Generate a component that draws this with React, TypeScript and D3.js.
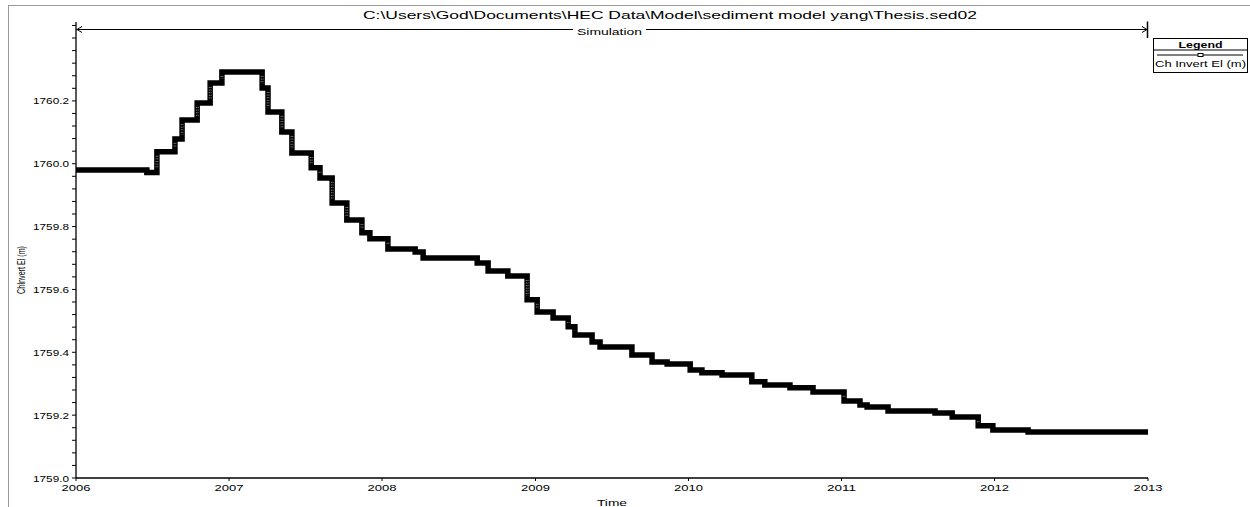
import React from "react";
import * as d3 from "d3";

// Channel invert elevation time series (step changes), metres
const stepDates: string[] = [
  "2006-01-01", "2006-06-19", "2006-07-13", "2006-08-25", "2006-09-11", "2006-10-17",
  "2006-11-17", "2006-12-15", "2007-03-21", "2007-04-04", "2007-05-07", "2007-05-31",
  "2007-07-16", "2007-08-06", "2007-09-04", "2007-10-09", "2007-11-14", "2007-12-03",
  "2008-01-15", "2008-03-20", "2008-04-08", "2008-08-15", "2008-09-10", "2008-10-27",
  "2008-12-12", "2009-01-05", "2009-02-12", "2009-03-20", "2009-04-05", "2009-05-16",
  "2009-06-04", "2009-08-19", "2009-10-06", "2009-11-11", "2010-01-05", "2010-02-02",
  "2010-03-22", "2010-06-01", "2010-07-02", "2010-08-31", "2010-10-25", "2011-01-07",
  "2011-02-14", "2011-03-03", "2011-04-22", "2011-08-12", "2011-09-22", "2011-11-23",
  "2011-12-28", "2012-03-21", "2013-01-01",
];
const invertElev: number[] = [
  1759.98, 1759.972, 1760.038, 1760.079, 1760.139, 1760.193,
  1760.257, 1760.292, 1760.241, 1760.165, 1760.101, 1760.034,
  1759.987, 1759.955, 1759.875, 1759.821, 1759.78, 1759.761,
  1759.729, 1759.719, 1759.7, 1759.684, 1759.659, 1759.643,
  1759.567, 1759.528, 1759.509, 1759.481, 1759.455, 1759.433,
  1759.417, 1759.391, 1759.369, 1759.363, 1759.344, 1759.335,
  1759.328, 1759.306, 1759.296, 1759.287, 1759.274, 1759.245,
  1759.232, 1759.226, 1759.213, 1759.207, 1759.194, 1759.166,
  1759.153, 1759.146, 1759.146,
];
const yMajorTicks: number[] = [1759.0, 1759.2, 1759.4, 1759.6, 1759.8, 1760.0, 1760.2];
const xTickYears: number[] = [2006, 2007, 2008, 2009, 2010, 2011, 2012, 2013];

const TITLE = "C:\\Users\\God\\Documents\\HEC Data\\Model\\sediment model yang\\Thesis.sed02";
const FONT = "'Liberation Sans', Arial, sans-serif";

export default function App() {
  const left = 76, right = 1148, top = 22, bottom = 478;
  const parse = d3.timeParse("%Y-%m-%d");
  const x = d3.scaleTime()
    .domain([new Date(2006, 0, 1), new Date(2013, 0, 1)])
    .range([left, right]);
  const y = d3.scaleLinear().domain([1759.0, 1760.451]).range([bottom, top]);

  const pts: [number, number][] = stepDates.map((d, i) => [x(parse(d) as Date), y(invertElev[i])]);
  const line = d3.line().curve(d3.curveStepAfter);
  const pathD = line(pts) || "";

  // vertical risers of the step line (drawn with a dotted texture)
  const risers: { x: number; y1: number; y2: number }[] = [];
  for (let i = 1; i < pts.length; i++) {
    const dy = Math.abs(pts[i][1] - pts[i - 1][1]);
    if (dy > 8) risers.push({ x: pts[i][0], y1: pts[i - 1][1], y2: pts[i][1] });
  }

  const minorTicks = d3.range(0, 37).map((i) => 1759 + i * 0.04);
  const midX = (left + right) / 2;

  return (
    <svg width={1250} height={507} style={{ position: "absolute", left: 0, top: 0, background: "#fff" }}
      fontFamily={FONT}>
      {/* outer frame */}
      <rect x={8.5} y={5.5} width={1260} height={520} fill="none" stroke="#9a9a9a" strokeWidth={1} />

      {/* title */}
      <text x={363} y={18.5} fontSize={11.5} textLength={614} lengthAdjust="spacingAndGlyphs" fill="#000">
        {TITLE}
      </text>

      {/* simulation window marker */}
      <line x1={left} x2={right} y1={29.5} y2={29.5} stroke="#000" strokeWidth={1} />
      <path d={`M${left + 6},26.5 L${left + 1},29.5 L${left + 6},32.5`} fill="none" stroke="#000" strokeWidth={1} />
      <path d={`M${right - 6},26.5 L${right - 1},29.5 L${right - 6},32.5`} fill="none" stroke="#000" strokeWidth={1} />
      <line x1={right - 0.5} x2={right - 0.5} y1={21.5} y2={38} stroke="#000" strokeWidth={1.5} />
      <rect x={573} y={24} width={73} height={11} fill="#fff" />
      <text x={577} y={34.5} fontSize={9.5} textLength={65} lengthAdjust="spacingAndGlyphs" fill="#000">
        Simulation
      </text>

      {/* axes */}
      <line x1={left} x2={left} y1={top} y2={bottom} stroke="#000" strokeWidth={1.3} />
      <line x1={left} x2={right} y1={bottom} y2={bottom} stroke="#000" strokeWidth={1.3} />
      {minorTicks.map((v, i) => (
        <line key={"mt" + i} x1={left - 4} x2={left} y1={y(v)} y2={y(v)} stroke="#000" strokeWidth={1} />
      ))}
      {yMajorTicks.map((v) => (
        <text key={"yl" + v} x={33} y={y(v) + 3.5} fontSize={9.5} textLength={36}
          lengthAdjust="spacingAndGlyphs" fill="#000">
          {v.toFixed(1)}
        </text>
      ))}
      {xTickYears.map((yr) => {
        const xx = x(new Date(yr, 0, 1));
        return (
          <g key={"xt" + yr}>
            <line x1={xx} x2={xx} y1={bottom} y2={bottom + 3} stroke="#000" strokeWidth={1} />
            <text x={xx - 14.5} y={491} fontSize={9.5} textLength={29}
              lengthAdjust="spacingAndGlyphs" fill="#000">
              {yr}
            </text>
          </g>
        );
      })}

      {/* axis titles */}
      <text x={midX} y={506} fontSize={9.5} textAnchor="middle" textLength={30}
        lengthAdjust="spacingAndGlyphs" fill="#000">Time</text>
      <g transform="translate(25,294) rotate(-90)">
        <text x={0} y={0} fontSize={10} textLength={48}
          lengthAdjust="spacingAndGlyphs" fill="#000">ChInvert El (m)</text>
      </g>

      {/* data */}
      <path d={pathD} fill="none" stroke="#000" strokeWidth={5.5} strokeLinejoin="miter" strokeLinecap="butt" />
      {risers.map((r, i) => {
        const lo = Math.min(r.y1, r.y2) + 4, hi = Math.max(r.y1, r.y2) - 4;
        return (
          <g key={"rs" + i}>
            <line x1={r.x - 0.8} x2={r.x - 0.8} y1={lo} y2={hi} stroke="#bbb" strokeWidth={0.8} strokeDasharray="1 1.6" />
            <line x1={r.x + 0.9} x2={r.x + 0.9} y1={lo} y2={hi} stroke="#bbb" strokeWidth={0.8} strokeDasharray="1 1.6" />
          </g>
        );
      })}

      {/* legend */}
      <rect x={1153.5} y={38.5} width={94} height={34} fill="#fff" stroke="#000" strokeWidth={1} />
      <text x={1200.5} y={47.5} fontSize={9.5} fontWeight="bold" textAnchor="middle" textLength={44}
        lengthAdjust="spacingAndGlyphs" fill="#000">Legend</text>
      <line x1={1153.5} x2={1247.5} y1={50} y2={50} stroke="#000" strokeWidth={1} />
      <line x1={1157} x2={1243} y1={55} y2={55} stroke="#000" strokeWidth={1} />
      <rect x={1198} y={53.5} width={5} height={3} fill="#fff" stroke="#000" strokeWidth={1} />
      <text x={1155} y={66.5} fontSize={9.5} textLength={91} lengthAdjust="spacingAndGlyphs" fill="#000">
        Ch Invert El (m)
      </text>
    </svg>
  );
}
